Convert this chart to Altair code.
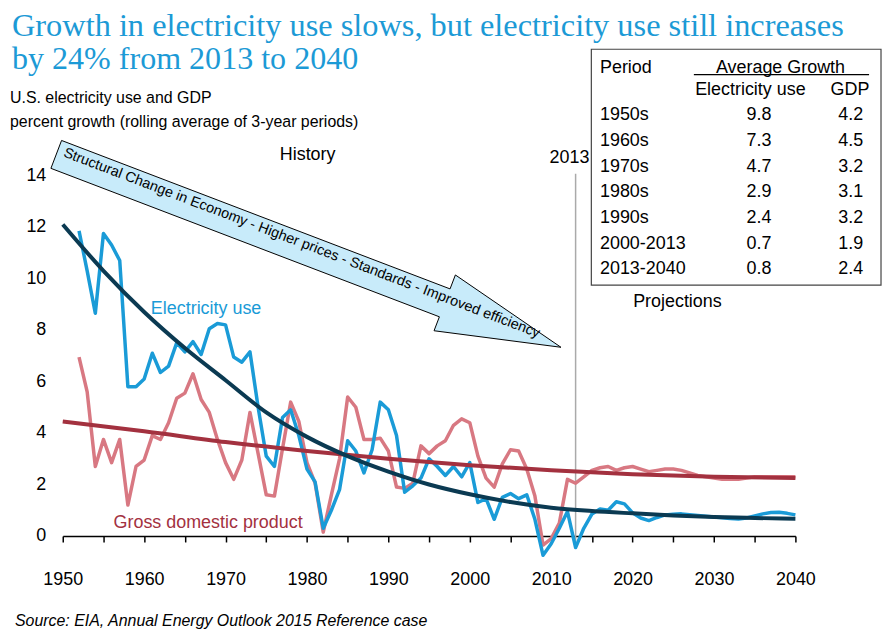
import math
import altair as alt
import pandas as pd

# ---------------- data ----------------
elec_years = list(range(1952, 2041))
elec_growth = [
    11.85, 10.3, 8.65, 11.75, 11.3, 10.7, 5.8, 5.8,             # 1952-1959
    6.1, 7.1, 6.35, 6.6, 7.5, 7.15, 7.55, 7.05, 8.05, 8.25,     # 1960s
    8.2, 6.95, 6.75, 7.15, 5.0, 3.1, 2.7, 4.6, 4.9, 3.9,        # 1970s
    2.6, 2.1, 0.3, 1.0, 1.8, 3.7, 3.3, 2.45, 3.35, 5.2,         # 1980s
    4.9, 3.9, 1.7, 1.95, 2.25, 3.0, 2.7, 2.35, 2.7, 2.3,        # 1990s
    2.85, 1.3, 1.45, 0.65, 1.5, 1.65, 1.45, 1.6, 0.65, -0.75,   # 2000s
    -0.3, 0.3, 0.95, -0.45, 0.3, 0.85, 1.05, 1.0, 1.33, 1.25,   # 2010s
    0.9, 0.7, 0.6, 0.72, 0.82, 0.85, 0.86, 0.83, 0.8, 0.77,     # 2020s
    0.74, 0.71, 0.68, 0.66, 0.7, 0.78, 0.86, 0.91, 0.92, 0.88,  # 2030s
    0.82,                                                       # 2040
]
gdp_growth = [
    6.95, 5.6, 2.7, 3.75, 2.85, 3.75, 1.2, 2.7,
    2.95, 3.9, 3.75, 4.4, 5.35, 5.55, 6.3, 5.3, 4.8, 3.75,
    2.85, 2.2, 2.95, 4.8, 3.2, 1.6, 1.55, 3.4, 5.2, 4.45,
    2.85, 2.05, 0.15, 1.6, 3.0, 5.4, 5.0, 3.75, 3.75, 3.8,
    3.3, 1.9, 1.85, 2.05, 3.5, 3.2, 3.5, 3.7, 4.3, 4.55,
    4.4, 3.1, 2.25, 1.9, 2.8, 3.35, 3.3, 2.6, 1.55, -0.35,
    -0.1, 0.5, 2.2, 2.05, 2.3, 2.55, 2.65, 2.7, 2.55, 2.65,
    2.7, 2.6, 2.5, 2.55, 2.6, 2.6, 2.55, 2.45, 2.35, 2.3,
    2.25, 2.2, 2.2, 2.2, 2.25, 2.3, 2.3, 2.3, 2.3, 2.3,
    2.3,
]
assert len(elec_growth) == len(elec_years) == len(gdp_growth)

elec_trend_years = list(range(1950, 2041, 5))
elec_trend = [12.1, 10.3, 8.7, 7.3, 6.05, 4.8, 3.85, 3.1, 2.5, 2.0,
              1.62, 1.32, 1.1, 0.97, 0.88, 0.8, 0.74, 0.7, 0.67]
gdp_trend_years = list(range(1950, 2041, 10))
gdp_trend = [4.45, 4.07, 3.65, 3.3, 3.0, 2.75, 2.55, 2.4, 2.3, 2.25]

periods = ["1950s", "1960s", "1970s", "1980s", "1990s", "2000-2013", "2013-2040"]
avg_elec = ["9.8", "7.3", "4.7", "2.9", "2.4", "0.7", "0.8"]
avg_gdp = ["4.2", "4.5", "3.2", "3.1", "3.2", "1.9", "2.4"]

projection_start = 2013
arrow_tail = (1949.2, 14.82)   # (year, value) of the arrow's tail centre
arrow_tip = (2011.2, 7.33)     # (year, value) of the arrow's point

# ---------------- style ----------------
SANS = "Liberation Sans"
SERIF = "Liberation Serif"
BLUE = "#1A9BD7"
PINK = "#D87882"
NAVY = "#0B3A52"
DARKRED = "#A3313F"
TITLE_BLUE = "#1C9AD6"

W, H = 736, 388
X_DOM, Y_DOM = [1950, 2040], [0, 15]
xs = alt.Scale(domain=X_DOM, nice=False, zero=False)
ys = alt.Scale(domain=Y_DOM, nice=False)
xaxis = alt.Axis(values=list(range(1950, 2041, 5)), format="d",
                 labelExpr="datum.value % 10 == 0 ? datum.label : ''",
                 title=None, grid=False, domainColor="black", domainWidth=1.5,
                 tickColor="black", tickWidth=1.5, tickSize=6,
                 labelFontSize=18, labelFont=SANS, labelColor="black",
                 labelPadding=29, labelFlush=False, labelOverlap=False)
yaxis = alt.Axis(values=list(range(0, 15, 2)), title=None, grid=False,
                 domain=False, ticks=False, labelFontSize=18, labelFont=SANS,
                 labelColor="black", labelPadding=17)
X = alt.X("year:Q", scale=xs, axis=xaxis)
Y = alt.Y("value:Q", scale=ys, axis=yaxis)

ONE = pd.DataFrame({"k": [0]})


def series(years, vals, color, interp="linear", width=3.5):
    df = pd.DataFrame({"year": years, "value": vals})
    return alt.Chart(df).mark_line(color=color, strokeWidth=width,
                                   interpolate=interp, strokeJoin="round").encode(x=X, y=Y)


def label(text, x, y, size=18, color="black", align="center",
          baseline="middle", font=SANS, angle=None, style=None, line_height=None):
    kw = dict(text=text, fontSize=size, color=color, align=align,
              baseline=baseline, font=font)
    if angle is not None:
        kw["angle"] = angle
    if style:
        kw["fontStyle"] = style
    if line_height:
        kw["lineHeight"] = line_height
    return alt.Chart(ONE).mark_text(**kw).encode(x=alt.value(x), y=alt.value(y))


# ---------------- arrow polygon (built from its two anchors) ----------------
kx, ky = W / (X_DOM[1] - X_DOM[0]), H / (Y_DOM[1] - Y_DOM[0])
tx, ty = (arrow_tail[0] - X_DOM[0]) * kx, -arrow_tail[1] * ky
px, py = (arrow_tip[0] - X_DOM[0]) * kx, -arrow_tip[1] * ky
L = math.hypot(px - tx, py - ty)
dx, dy = (px - tx) / L, (py - ty) / L
nx, ny = dy, -dx                      # perpendicular (screen "up" side)
shaft_half, head_half, head_len = 15, 30, 125
bx, by = px - dx * head_len, py - dy * head_len
pts = [
    (tx + nx * shaft_half, ty + ny * shaft_half),
    (bx + nx * shaft_half, by + ny * shaft_half),
    (bx + nx * head_half, by + ny * head_half),
    (px, py),
    (bx - nx * head_half, by - ny * head_half),
    (bx - nx * shaft_half, by - ny * shaft_half),
    (tx - nx * shaft_half, ty - ny * shaft_half),
]
pts.append(pts[0])
arrow_df = pd.DataFrame({
    "year": [X_DOM[0] + p[0] / kx for p in pts],
    "value": [-p[1] / ky for p in pts],
    "i": list(range(len(pts))),
})
arrow_angle = math.degrees(math.atan2(py - ty, px - tx))

arrow = alt.Chart(arrow_df).mark_line(fill="#C8EBFA", stroke="black",
                                      strokeWidth=1, strokeJoin="miter").encode(
    x=X, y=Y, order="i:Q")
arrow_text = label("Structural Change in Economy - Higher prices - Standards - Improved efficiency",
                   240, 94, size=14.5, angle=round(arrow_angle, 2))

# ---------------- lines ----------------
gdp_line = series(elec_years, gdp_growth, PINK)
elec_line = series(elec_years, elec_growth, BLUE)
gdp_fit = series(gdp_trend_years, gdp_trend, DARKRED, interp="monotone", width=4)
elec_fit = series(elec_trend_years, elec_trend, NAVY, interp="monotone", width=4)

proj_rule = alt.Chart(pd.DataFrame({"year": [projection_start]})).mark_rule(
    color="#AAAAAA", strokeWidth=1.5).encode(x=X, y=alt.value(24), y2=alt.value(399))

# ---------------- table ----------------
table_box = alt.Chart(ONE).mark_rect(fill="white", stroke="#444444", strokeWidth=1.2).encode(
    x=alt.value(531), x2=alt.value(822), y=alt.value(-101), y2=alt.value(136))
underline = alt.Chart(ONE).mark_rule(color="black", strokeWidth=1.3).encode(
    x=alt.value(634), x2=alt.value(810), y=alt.value(-75.5))
ROW_H = 25.83
table = [
    table_box, underline,
    label("Period", 539.7, -77.5, align="left", baseline="alphabetic"),
    label("Average Growth", 721, -77.5, baseline="alphabetic"),
    label("Electricity use", 635.3, -55, align="left", baseline="alphabetic"),
    label("GDP", 771.3, -55, align="left", baseline="alphabetic"),
    label(periods, 539.7, -29.7, align="left", baseline="alphabetic", line_height=ROW_H),
    label(avg_elec, 699.5, -29.7, baseline="alphabetic", line_height=ROW_H),
    label(avg_gdp, 791.5, -29.7, baseline="alphabetic", line_height=ROW_H),
]

# ---------------- titles & annotations ----------------
texts = [
    label("Growth in electricity use slows, but electricity use still increases",
          -51, -114.5, size=32.5, color=TITLE_BLUE, align="left", baseline="alphabetic", font=SERIF),
    label("by 24% from 2013 to 2040", -51, -81, size=32.2, color=TITLE_BLUE,
          align="left", baseline="alphabetic", font=SERIF),
    label("U.S. electricity use and GDP", -53, -47, size=16, align="left", baseline="alphabetic"),
    label("percent growth (rolling average of 3-year periods)", -53, -23, size=16,
          align="left", baseline="alphabetic"),
    label("History", 246, 5),
    label("2013", 509, 8),
    label("Projections", 617.5, 153),
    label("Electricity use", 144, 160, color=BLUE),
    label("Gross domestic product", 146, 374.5, color=DARKRED),
    label("Source:  EIA, Annual Energy Outlook 2015 Reference case", -48, 473,
          size=16, align="left", style="italic"),
]

chart = alt.layer(
    arrow, arrow_text, proj_rule,
    gdp_line, elec_line, gdp_fit, elec_fit,
    *table, *texts,
).properties(
    width=W, height=H,
    autosize=alt.AutoSizeParams(type="none"),
    padding={"left": 55, "top": 141, "right": 88, "bottom": 93},
    background="white",
).configure(font=SANS).configure_view(stroke=None)

chart.save("out.html", embed_options={"renderer": "svg", "actions": False})
